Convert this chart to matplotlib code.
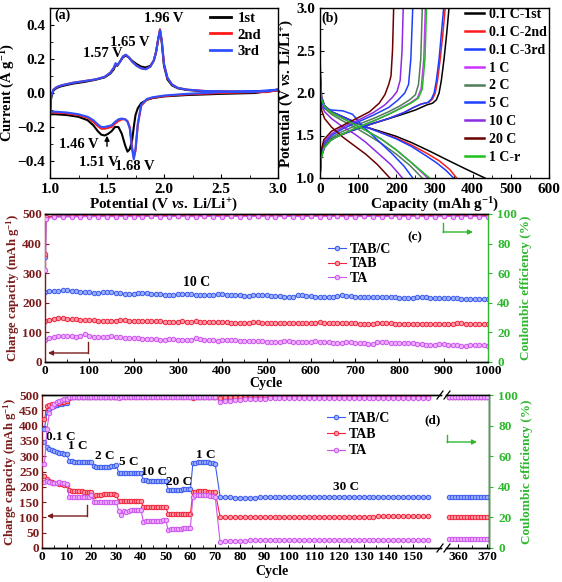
# Four-panel figure: CV curves, charge/discharge profiles, long cycling and rate test

import numpy as np
import matplotlib
matplotlib.use('Agg')
import matplotlib.pyplot as plt
from matplotlib.lines import Line2D
from matplotlib.patches import FancyArrowPatch
from matplotlib.ticker import MultipleLocator, FixedLocator

plt.rcParams['font.family'] = 'Liberation Serif'
plt.rcParams['font.weight'] = 'bold'
plt.rcParams['axes.labelweight'] = 'bold'
plt.rcParams['mathtext.fontset'] = 'custom'
plt.rcParams['mathtext.rm'] = 'Liberation Serif:bold'
plt.rcParams['mathtext.it'] = 'Liberation Serif:italic:bold'
plt.rcParams['mathtext.bf'] = 'Liberation Serif:bold'
plt.rcParams['xtick.direction'] = 'in'
plt.rcParams['ytick.direction'] = 'in'
plt.rcParams['axes.linewidth'] = 1.0

# ---------------- (a) CV curves ----------------
cv_up_v = [1.00, 1.01, 1.03, 1.06, 1.10, 1.20, 1.30, 1.40, 1.48, 1.53, 1.56, 1.575, 1.59,
           1.61, 1.64, 1.665, 1.69, 1.72, 1.76, 1.80, 1.84, 1.88, 1.91, 1.93, 1.95, 1.965,
           1.98, 2.00, 2.03, 2.07, 2.12, 2.20, 2.35, 2.50, 2.70, 2.90, 3.00]
cv_up_1st = [-0.125, -0.03, 0.015, 0.03, 0.04, 0.055, 0.065, 0.078, 0.092, 0.115, 0.14, 0.165, 0.16,
             0.18, 0.21, 0.22, 0.21, 0.19, 0.17, 0.155, 0.15, 0.16, 0.19, 0.24, 0.32, 0.365,
             0.30, 0.16, 0.08, 0.045, 0.028, 0.018, 0.01, 0.008, 0.006, 0.008, 0.015]
cv_up_2nd = [-0.115, -0.02, 0.02, 0.035, 0.045, 0.06, 0.07, 0.08, 0.095, 0.12, 0.148, 0.172, 0.165,
             0.18, 0.215, 0.225, 0.21, 0.185, 0.16, 0.145, 0.14, 0.155, 0.19, 0.24, 0.32, 0.375,
             0.31, 0.17, 0.09, 0.05, 0.03, 0.02, 0.012, 0.01, 0.008, 0.005, 0.02]
cv_up_3rd = [-0.11, -0.02, 0.02, 0.035, 0.045, 0.06, 0.07, 0.08, 0.095, 0.12, 0.15, 0.175, 0.165,
             0.18, 0.215, 0.225, 0.21, 0.185, 0.16, 0.145, 0.14, 0.155, 0.19, 0.24, 0.32, 0.37,
             0.31, 0.17, 0.09, 0.05, 0.03, 0.02, 0.012, 0.01, 0.008, 0.01, 0.02]
cv_dn_v = [3.00, 2.80, 2.50, 2.20, 2.00, 1.90, 1.85, 1.80, 1.77, 1.75, 1.735, 1.72, 1.70, 1.68,
           1.66, 1.63, 1.60, 1.57, 1.54, 1.51, 1.48, 1.45, 1.42, 1.38, 1.33, 1.25, 1.15, 1.05, 1.00]
cv_dn_1st = [0.02, 0.0, -0.005, -0.012, -0.02, -0.03, -0.04, -0.06, -0.09, -0.13, -0.2, -0.28, -0.33, -0.345,
             -0.31, -0.24, -0.2, -0.2, -0.225, -0.24, -0.25, -0.245, -0.225, -0.19, -0.16, -0.14, -0.13, -0.125, -0.125]
cv_dn_2nd = [0.015, 0.005, 0.0, -0.008, -0.018, -0.028, -0.038, -0.075, -0.19, -0.34, -0.38, -0.32, -0.2, -0.165,
             -0.155, -0.155, -0.165, -0.18, -0.2, -0.205, -0.21, -0.21, -0.195, -0.17, -0.145, -0.13, -0.12, -0.115, -0.115]
cv_dn_3rd = [0.02, 0.01, 0.005, -0.005, -0.015, -0.025, -0.035, -0.07, -0.18, -0.33, -0.39, -0.33, -0.21, -0.17,
             -0.155, -0.15, -0.155, -0.17, -0.19, -0.195, -0.2, -0.2, -0.185, -0.16, -0.14, -0.125, -0.115, -0.11, -0.11]

# ---------------- (b) charge / discharge profiles ----------------
gcd_labels = ['0.1 C-1st', '0.1 C-2nd', '0.1 C-3rd', '1 C', '2 C', '5 C', '10 C', '20 C', '1 C-r']
gcd_colors = ['#000000', '#ff1a1a', '#1a3cff', '#cc33ff', '#4f7d55', '#1f3fff', '#8c2be2', '#6b0000', '#1fbf1f']
dis_cap = [
    [0, 1, 4, 12, 30, 60, 90, 113, 150, 200, 243, 290, 330, 380, 432],
    [0, 1, 4, 12, 30, 60, 90, 115, 150, 200, 243, 280, 313, 340, 358],
    [0, 1, 4, 12, 30, 60, 90, 115, 150, 200, 240, 275, 305, 330, 350],
    [0, 1, 4, 12, 30, 60, 90, 120, 160, 200, 240, 282],
    [0, 1, 4, 12, 30, 60, 90, 120, 160, 200, 235, 268],
    [0, 1, 4, 12, 30, 60, 85, 110, 150, 190, 220, 243],
    [0, 1, 4, 12, 30, 60, 90, 120, 150, 185, 216],
    [0, 1, 4, 12, 30, 60, 90, 120, 150, 183],
    [0, 1, 4, 12, 30, 60, 90, 120, 160, 200, 245, 287],
]
dis_v = [
    [2.6, 2.2, 1.95, 1.85, 1.78, 1.72, 1.66, 1.61, 1.56, 1.49, 1.41, 1.31, 1.22, 1.11, 1.0],
    [2.6, 2.2, 1.95, 1.85, 1.78, 1.72, 1.66, 1.61, 1.55, 1.47, 1.38, 1.29, 1.2, 1.1, 1.0],
    [2.6, 2.2, 1.95, 1.85, 1.78, 1.72, 1.66, 1.61, 1.55, 1.46, 1.37, 1.27, 1.18, 1.09, 1.0],
    [2.4, 2.1, 1.92, 1.84, 1.77, 1.7, 1.63, 1.56, 1.46, 1.33, 1.18, 1.0],
    [2.4, 2.1, 1.9, 1.82, 1.75, 1.67, 1.6, 1.52, 1.41, 1.28, 1.15, 1.0],
    [2.4, 2.1, 1.9, 1.82, 1.8, 1.79, 1.75, 1.62, 1.45, 1.28, 1.14, 1.0],
    [2.3, 2.0, 1.85, 1.78, 1.7, 1.6, 1.52, 1.42, 1.3, 1.16, 1.0],
    [2.2, 1.95, 1.8, 1.7, 1.6, 1.48, 1.38, 1.28, 1.16, 1.0],
    [2.4, 2.1, 1.92, 1.84, 1.77, 1.7, 1.63, 1.56, 1.46, 1.33, 1.16, 1.0],
]
chg_cap = [
    [0, 2, 8, 25, 60, 110, 160, 210, 250, 280, 295, 305, 312, 318, 325, 332, 338],
    [0, 3, 15, 40, 80, 130, 180, 220, 245, 265, 285, 295, 302, 308, 315, 322, 328],
    [0, 3, 15, 40, 80, 130, 180, 220, 245, 265, 283, 292, 299, 305, 312, 318, 324],
    [0, 2, 10, 30, 60, 100, 140, 180, 210, 235, 255, 265, 272, 276],
    [0, 2, 10, 30, 60, 100, 140, 180, 210, 235, 250, 258, 264, 268],
    [0, 2, 10, 30, 60, 100, 140, 180, 205, 222, 232, 238, 243],
    [0, 2, 10, 30, 60, 100, 140, 170, 190, 202, 210, 215, 218],
    [0, 2, 10, 30, 60, 100, 130, 155, 170, 180, 186, 190, 193],
    [0, 2, 10, 30, 60, 100, 140, 180, 212, 238, 258, 268, 275, 279],
]
chg_v = [
    [1.0, 1.2, 1.35, 1.45, 1.52, 1.6, 1.67, 1.74, 1.8, 1.86, 1.88, 1.92, 2.0, 2.15, 2.4, 2.7, 3.0],
    [1.0, 1.25, 1.4, 1.48, 1.55, 1.63, 1.7, 1.77, 1.83, 1.87, 1.89, 1.93, 2.0, 2.15, 2.4, 2.7, 3.0],
    [1.0, 1.25, 1.4, 1.48, 1.55, 1.63, 1.7, 1.77, 1.83, 1.87, 1.89, 1.93, 2.0, 2.15, 2.4, 2.7, 3.0],
    [1.0, 1.2, 1.35, 1.45, 1.52, 1.6, 1.67, 1.75, 1.82, 1.88, 1.94, 2.05, 2.4, 3.0],
    [1.0, 1.22, 1.38, 1.48, 1.55, 1.63, 1.7, 1.78, 1.85, 1.92, 1.98, 2.1, 2.4, 3.0],
    [1.0, 1.25, 1.4, 1.5, 1.58, 1.66, 1.74, 1.83, 1.92, 2.0, 2.1, 2.4, 3.0],
    [1.0, 1.28, 1.42, 1.52, 1.6, 1.68, 1.77, 1.86, 1.95, 2.02, 2.15, 2.5, 3.0],
    [1.0, 1.3, 1.45, 1.55, 1.62, 1.71, 1.78, 1.88, 1.98, 2.1, 2.2, 2.5, 3.0],
    [1.0, 1.2, 1.35, 1.45, 1.52, 1.6, 1.67, 1.75, 1.82, 1.88, 1.94, 2.05, 2.4, 3.0],
]

# ---------------- (c) long cycling at 10 C ----------------
samples = ['TAB/C', 'TAB', 'TA']
sample_colors = ['#3a5bef', '#f0243c', '#cc55ee']
sample_faces = ['#9fb0ff', '#ff9aa8', '#eeb0ff']

c_cyc = np.arange(0, 1001, 10)
c_cyc[0] = 1
c_cap_tabc = [236, 240, 240, 240, 242, 244, 241, 239, 237, 236,
              235, 234, 233, 236, 237, 235, 233, 232, 231, 230,
              229, 232, 234, 233, 231, 230, 229, 228, 227, 227,
              229, 231, 231, 229, 228, 227, 226, 225, 225, 230,
              230, 228, 227, 226, 225, 224, 224, 226, 228, 228,
              226, 224, 223, 222, 221, 220, 221, 226, 225, 223,
              222, 221, 220, 219, 219, 219, 223, 225, 223, 222,
              221, 220, 219, 219, 218, 219, 220, 221, 220, 218,
              217, 217, 216, 216, 218, 218, 218, 217, 216, 217,
              216, 215, 215, 215, 214, 214, 214, 214, 213, 213,
              213]
c_cap_tab = [138, 142, 146, 148, 147, 146, 145, 144, 143, 142,
             142, 141, 140, 140, 140, 139, 140, 142, 141, 140,
             140, 139, 139, 138, 138, 137, 137, 136, 136, 136,
             136, 137, 136, 136, 137, 136, 135, 135, 134, 134,
             134, 134, 133, 133, 133, 133, 133, 134, 134, 133,
             133, 133, 132, 132, 132, 132, 131, 131, 131, 131,
             131, 133, 134, 133, 132, 132, 132, 132, 131, 131,
             131, 130, 130, 130, 130, 131, 131, 131, 131, 130,
             130, 130, 130, 130, 129, 129, 129, 129, 129, 129,
             128, 128, 128, 131, 131, 130, 130, 129, 128, 128,
             128]
c_cap_ta = [76, 82, 86, 89, 89, 88, 87, 86, 88, 93,
            89, 86, 85, 84, 83, 88, 85, 83, 82, 81,
            80, 80, 79, 78, 77, 77, 76, 76, 77, 77,
            76, 75, 74, 74, 80, 78, 76, 75, 73, 72,
            76, 75, 74, 73, 72, 71, 71, 72, 72, 70,
            69, 69, 69, 68, 70, 70, 69, 68, 67, 66,
            66, 70, 68, 67, 66, 65, 64, 64, 68, 66,
            65, 64, 63, 61, 60, 68, 67, 66, 65, 64,
            63, 64, 65, 63, 62, 60, 59, 57, 56, 62,
            60, 58, 57, 56, 54, 53, 57, 58, 57, 56,
            55]
c_ce_cyc = [1, 2] + list(range(20, 1001, 20))
c_ce_tabc = [71.0, 97.6,
             98.4, 98.6, 98.7, 98.8, 98.8, 98.8, 98.9, 98.9, 98.9, 98.9,
             98.9, 99.0, 98.9, 98.9, 99.0, 98.9, 98.9, 99.0, 98.9, 98.9,
             99.0, 98.9, 98.9, 99.0, 98.9, 98.9, 99.0, 98.9, 98.9, 99.0,
             98.9, 98.9, 99.0, 98.9, 98.9, 99.0, 98.9, 98.9, 99.0, 98.9,
             98.9, 99.0, 98.9, 98.9, 99.0, 98.9, 98.9, 99.0, 98.9, 98.9]
c_ce_tab = [73.0, 97.8,
            98.5, 98.7, 98.8, 98.8, 98.9, 98.9, 98.9, 98.9, 98.9, 99.0,
            98.9, 98.9, 99.0, 98.9, 98.9, 99.0, 98.9, 98.9, 99.0, 98.9,
            98.9, 99.0, 98.9, 98.9, 99.0, 98.9, 98.9, 99.0, 98.9, 98.9,
            99.0, 98.9, 98.9, 99.0, 98.9, 98.9, 99.0, 98.9, 98.9, 99.0,
            98.9, 98.9, 99.0, 98.9, 98.9, 99.0, 98.9, 98.9, 99.0, 98.9]
c_ce_ta = [62.0, 96.8,
           97.8, 98.0, 98.1, 98.2, 98.2, 98.3, 98.3, 98.3, 98.3, 98.3,
           98.3, 98.4, 98.3, 98.3, 98.4, 98.3, 98.3, 98.4, 98.3, 98.3,
           98.4, 98.3, 98.3, 98.4, 98.3, 98.3, 98.4, 98.3, 98.3, 98.4,
           98.3, 98.3, 98.4, 98.3, 98.3, 98.4, 98.3, 98.3, 98.4, 98.3,
           98.3, 98.4, 98.3, 98.3, 98.4, 98.3, 98.3, 98.4, 98.3, 98.3]

# ---------------- (d) rate test ----------------
d_cyc = list(range(1, 71)) + list(range(72, 157, 2))
d_cap_tabc = [345, 330, 325, 320, 317, 314, 312, 310, 308, 306,
              284, 283, 282, 282, 281, 281, 281, 281, 280, 280,
              267, 266, 266, 266, 266, 266, 266, 267, 267, 270,
              246, 245, 245, 245, 245, 245, 245, 245, 245, 245,
              221, 221, 220, 220, 220, 220, 220, 220, 220, 220,
              191, 191, 191, 191, 191, 191, 192, 192, 192, 192,
              277, 279, 280, 281, 281, 280, 280, 279, 278, 276,
              168, 167, 166, 165, 165, 165, 165, 165, 166, 166,
              166, 166, 166, 166, 166, 166, 167, 167, 167, 167,
              167, 167, 167, 167, 167, 167, 168, 168, 168, 168,
              168, 168, 168, 168, 168, 168, 168, 168, 168, 168,
              168, 168, 168]
d_cap_tab = [235, 224, 220, 217, 214, 212, 210, 208, 207, 205,
             188, 187, 186, 186, 185, 185, 184, 184, 183, 183,
             171, 172, 173, 174, 175, 175, 175, 175, 175, 174,
             154, 153, 153, 153, 153, 153, 153, 153, 153, 153,
             133, 133, 133, 133, 133, 133, 133, 133, 133, 133,
             112, 111, 111, 111, 111, 111, 112, 112, 112, 112,
             182, 184, 185, 185, 185, 185, 184, 184, 184, 183,
             102, 101, 100, 100, 100, 100, 100, 100, 100, 100,
             100, 100, 100, 100, 101, 101, 101, 101, 101, 101,
             101, 101, 101, 102, 102, 102, 102, 102, 102, 102,
             102, 102, 103, 103, 103, 103, 103, 103, 103, 103,
             103, 103, 103]
d_cap_ta = [215, 218, 216, 214, 212, 213, 216, 213, 211, 209,
            167, 166, 166, 166, 166, 166, 167, 167, 168, 172,
            150, 149, 149, 149, 150, 150, 150, 150, 150, 151,
            122, 107, 122, 118, 121, 123, 124, 124, 124, 125,
            86, 87, 87, 88, 88, 89, 89, 89, 90, 90,
            60, 61, 62, 62, 63, 63, 64, 64, 65, 66,
            168, 172, 173, 173, 173, 172, 172, 171, 170, 168,
            20, 22, 23, 24, 24, 24, 25, 25, 25, 25,
            25, 25, 25, 25, 25, 25, 25, 25, 25, 25,
            25, 25, 25, 25, 25, 25, 25, 25, 25, 25,
            25, 25, 25, 25, 25, 25, 25, 25, 25, 25,
            25, 25, 25]
d_ce_tabc = [78, 89, 91, 92, 93, 93.6, 94, 94.4, 94.6, 95,
             98.2, 98.6, 98.8, 98.9, 99, 99, 99, 99, 99, 99,
             99, 99, 99, 99, 99, 99, 99, 99, 99, 99,
             99, 99.1, 99.1, 99.1, 99.1, 99.1, 99.1, 99.1, 99.1, 99.1,
             99.1, 99.1, 99.1, 99.1, 99.1, 99.1, 99.1, 99.1, 99.1, 99.1,
             99.1, 99.1, 99.1, 99.1, 99.1, 99.1, 99.1, 99.1, 99.1, 99.1,
             98.6, 98.8, 99, 99, 99, 99, 99, 99, 99, 99,
             97.4, 98, 98.3, 98.5, 98.6, 98.7, 98.8, 98.8, 98.9, 98.9,
             98.9, 98.9, 98.9, 98.9, 98.9, 98.9, 98.9, 98.9, 98.9, 98.9,
             99, 99, 99, 99, 99, 99, 99, 99, 99, 99,
             99, 99, 99, 99, 99, 99, 99, 99, 99, 99,
             99, 99, 99]
d_ce_tab = [84, 93, 93.6, 94, 94.4, 94.6, 95, 95.2, 95.4, 96,
            98, 98.4, 98.6, 98.8, 98.8, 98.9, 98.9, 98.9, 98.9, 98.9,
            98.9, 98.9, 98.9, 98.9, 98.9, 98.9, 98.9, 98.9, 98.9, 98.9,
            98.9, 98.9, 98.9, 98.9, 98.9, 98.9, 98.9, 98.9, 98.9, 98.9,
            98.9, 98.9, 98.9, 98.9, 98.9, 98.9, 98.9, 98.9, 98.9, 98.9,
            98.9, 98.9, 98.9, 98.9, 98.9, 98.9, 98.9, 98.9, 98.9, 98.9,
            98.2, 98.6, 98.8, 98.9, 98.9, 98.9, 98.9, 98.9, 98.9, 98.9,
            98.0, 98.4, 98.6, 98.7, 98.8, 98.8, 98.9, 98.9, 98.9, 98.9,
            98.9, 98.9, 98.9, 98.9, 98.9, 98.9, 98.9, 98.9, 98.9, 98.9,
            98.9, 98.9, 98.9, 98.9, 98.9, 98.9, 98.9, 98.9, 98.9, 98.9,
            98.9, 98.9, 98.9, 98.9, 98.9, 98.9, 98.9, 98.9, 98.9, 98.9,
            98.9, 98.9, 98.9]
d_ce_ta = [55, 78, 88, 92, 94, 95.6, 96.4, 97, 97.4, 97.6,
           98.4, 98.6, 98.8, 98.8, 98.8, 98.8, 98.8, 98.8, 98.8, 98.8,
           98.8, 98.8, 98.8, 98.8, 98.8, 98.8, 98.8, 98.8, 98.8, 98.8,
           98.0, 98.4, 98.6, 98.8, 98.8, 98.8, 98.8, 98.8, 98.8, 98.8,
           98.8, 98.8, 98.8, 98.8, 98.8, 98.8, 98.8, 98.8, 98.8, 98.8,
           98.6, 98.8, 98.8, 98.8, 98.8, 98.8, 98.8, 98.8, 98.8, 98.8,
           98.6, 98.8, 98.8, 98.8, 98.8, 98.8, 98.8, 98.8, 98.8, 98.8,
           95.2, 96, 96.4, 96.8, 97, 97.2, 97.4, 97.5, 97.6, 97.7,
           97.8, 97.8, 97.9, 97.9, 98, 98, 98, 98.1, 98.1, 98.1,
           98.2, 98.2, 98.2, 98.2, 98.3, 98.3, 98.3, 98.3, 98.3, 98.3,
           98.3, 98.3, 98.3, 98.3, 98.3, 98.3, 98.3, 98.3, 98.3, 98.3,
           98.3, 98.3, 98.3]
d_cyc_r = list(range(357, 371))
d_cap_tabc_r = [168, 168, 168, 168, 168, 168, 168, 168, 168, 168, 168, 168, 168, 168]
d_cap_tab_r = [100, 100, 100, 100, 100, 100, 100, 100, 100, 100, 100, 100, 100, 100]
d_cap_ta_r = [30, 30, 30, 30, 30, 30, 30, 30, 30, 30, 30, 30, 30, 30]
d_ce_tabc_r = [99, 99, 99, 99, 99, 99, 99, 99, 99, 99, 99, 99, 99, 99]
d_ce_tab_r = [98.9, 98.9, 98.9, 98.9, 98.9, 98.9, 98.9, 98.9, 98.9, 98.9, 98.9, 98.9, 98.9, 98.9]
d_ce_ta_r = [98.6, 98.6, 98.6, 98.6, 98.6, 98.6, 98.6, 98.6, 98.6, 98.6, 98.6, 98.6, 98.6, 98.6]
rate_labels = ['0.1 C', '1 C', '2 C', '5 C', '10 C', '20 C', '1 C', '30 C']
rate_label_x = [7.5, 14.6, 25.5, 35, 45.4, 55.5, 66, 123]
rate_label_y = [363, 333, 300, 281, 248, 216, 304, 199]

CAP_COLOR = '#7b1c1c'
CE_COLOR = '#2eb82e'
W, H = 562, 582

fig = plt.figure(figsize=(5.62, 5.82), dpi=100)


def px_box(x0, y0, x1, y1):
    # figure rectangle from pixel corners (top-left origin)
    return [x0 / W, 1 - y1 / H, (x1 - x0) / W, (y1 - y0) / H]


def fpx(x, y):
    return (x / W, 1 - y / H)


def elbow_arrow(x0, y0, x1, y1, x2, y2, color):
    fig.add_artist(Line2D([x0 / W, x1 / W], [1 - y0 / H, 1 - y1 / H],
                          transform=fig.transFigure, color=color, lw=1.0))
    fig.add_artist(FancyArrowPatch(fpx(x1, y1), fpx(x2, y2), transform=fig.transFigure,
                                   color=color, arrowstyle='-|>', mutation_scale=7, lw=1.0,
                                   shrinkA=0, shrinkB=0))


# ---- panel (a)
ax_a = fig.add_axes(px_box(50, 8, 278, 178))
ax_a.plot(cv_dn_v + cv_up_v, cv_dn_1st + cv_up_1st, color='black', lw=1.5, label='1st')
ax_a.plot(cv_dn_v + cv_up_v, cv_dn_2nd + cv_up_2nd, color='#ff1a1a', lw=1.5, label='2nd')
ax_a.plot(cv_dn_v + cv_up_v, cv_dn_3rd + cv_up_3rd, color='#3050ff', lw=1.5, label='3rd')
ax_a.set_xlim(1.0, 3.0)
ax_a.set_ylim(-0.5, 0.5)
ax_a.xaxis.set_major_locator(MultipleLocator(0.5))
ax_a.xaxis.set_minor_locator(MultipleLocator(0.25))
ax_a.yaxis.set_major_locator(MultipleLocator(0.2))
ax_a.yaxis.set_minor_locator(MultipleLocator(0.1))
ax_a.tick_params(labelsize=11, length=3)
ax_a.tick_params(which='minor', length=2)
ax_a.set_xlabel(r'Potential (V $\mathit{vs.}\,$Li/Li$^{+}$)', fontsize=11, labelpad=0)
ax_a.set_ylabel(r'Current (A g$^{-1}$)', fontsize=10.5, labelpad=0)
leg_a = ax_a.legend(loc='upper left', bbox_to_anchor=(0.70, 0.975), frameon=False, fontsize=10.5,
                    handlelength=1.5, labelspacing=0.2, handletextpad=0.4, borderpad=0,
                    borderaxespad=0)
for h in leg_a.legend_handles:
    h.set_linewidth(2.0)
ax_a.text(1.11, 0.46, '(a)', fontsize=10, ha='center', va='center')
for txt, xx, yy in [('1.96 V', 2.0, 0.44), ('1.65 V', 1.70, 0.30), ('1.57 V', 1.46, 0.23),
                    ('1.46 V', 1.25, -0.30), ('1.51 V', 1.43, -0.41), ('1.68 V', 1.74, -0.43)]:
    ax_a.text(xx, yy, txt, fontsize=10.5, ha='center', va='center')
ax_a.annotate('', xy=(1.5, -0.235), xytext=(1.5, -0.33),
              arrowprops=dict(arrowstyle='-|>', color='black', lw=1.0, mutation_scale=7))

# ---- panel (b)
ax_b = fig.add_axes(px_box(320, 8, 549, 178))
for i in range(len(gcd_labels)):
    ax_b.plot(dis_cap[i], dis_v[i], color=gcd_colors[i], lw=1.1)
    ax_b.plot(chg_cap[i], chg_v[i], color=gcd_colors[i], lw=1.1, label=gcd_labels[i])
ax_b.set_xlim(0, 600)
ax_b.set_ylim(1.0, 3.0)
ax_b.xaxis.set_major_locator(MultipleLocator(100))
ax_b.xaxis.set_minor_locator(MultipleLocator(50))
ax_b.yaxis.set_major_locator(MultipleLocator(0.5))
ax_b.yaxis.set_minor_locator(MultipleLocator(0.25))
ax_b.tick_params(labelsize=11, length=3)
ax_b.tick_params(which='minor', length=2)
ax_b.set_xlabel(r'Capacity (mAh g$^{-1}$)', fontsize=11, labelpad=0)
ax_b.set_ylabel(r'Potential (V $\mathit{vs.}\,$Li/Li$^{+}$)', fontsize=11, labelpad=1)
leg_b = ax_b.legend(loc='upper left', bbox_to_anchor=(0.633, 1.0), frameon=False, fontsize=10,
                    handlelength=1.4, labelspacing=0.35, handletextpad=0.3, borderpad=0,
                    borderaxespad=0)
for h in leg_b.legend_handles:
    h.set_linewidth(1.8)
ax_b.text(25, 2.88, '(b)', fontsize=10, ha='center', va='center')

# ---- panel (c)
ax_c = fig.add_axes(px_box(45, 214, 488, 362))
ax_c2 = ax_c.twinx()
for cap, col, fc, lab in zip([c_cap_tabc, c_cap_tab, c_cap_ta], sample_colors, sample_faces, samples):
    ax_c.plot(c_cyc, cap, color=col, lw=0.8, marker='o', ms=3.2, mfc=fc, mec=col, mew=0.7, label=lab)
for ce, col, fc in zip([c_ce_tabc, c_ce_tab, c_ce_ta], sample_colors, sample_faces):
    ax_c2.plot(c_ce_cyc, ce, color=col, lw=0.8, marker='o', ms=3.2, mfc=fc, mec=col, mew=0.7)
ax_c.set_xlim(0, 1000)
ax_c.set_ylim(0, 500)
ax_c2.set_ylim(0, 100)
ax_c.xaxis.set_major_locator(MultipleLocator(100))
ax_c.xaxis.set_minor_locator(MultipleLocator(50))
ax_c.yaxis.set_major_locator(MultipleLocator(100))
ax_c2.yaxis.set_major_locator(MultipleLocator(20))
ax_c.set_xlabel('Cycle', fontsize=10, labelpad=0)
ax_c.set_ylabel(r'Charge capacity (mAh g$^{-1}$)', fontsize=9.2, color=CAP_COLOR, labelpad=0)
ax_c2.set_ylabel('Coulombic efficiency (%)', fontsize=9.5, color=CE_COLOR, labelpad=2)
ax_c.tick_params(axis='x', labelsize=9.5, length=3, pad=2)
ax_c.tick_params(axis='x', which='minor', length=2)
ax_c.tick_params(axis='y', labelsize=9.5, length=3, colors=CAP_COLOR, pad=2)
ax_c2.tick_params(axis='y', labelsize=9.5, length=3, colors=CE_COLOR, direction='out')
ax_c.spines['left'].set_color(CAP_COLOR)
ax_c2.spines['left'].set_visible(False)
ax_c2.spines['right'].set_color(CE_COLOR)
ax_c.spines['right'].set_visible(False)
ax_c.legend(loc='upper left', bbox_to_anchor=(0.639, 0.805), frameon=False, fontsize=10,
            handlelength=1.3, labelspacing=0.11, handletextpad=0.3, borderpad=0, borderaxespad=0)
ax_c.text(343, 270, '10 C', fontsize=10, ha='center', va='center')
fig.text(*fpx(415, 237), '(c)', fontsize=9.5, ha='center', va='center')
elbow_arrow(88, 342, 88, 353, 48, 353, CAP_COLOR)
elbow_arrow(443, 223, 443, 232, 473, 232, CE_COLOR)

# ---- panel (d), broken x axis
ax_d1 = fig.add_axes(px_box(42, 395, 441, 548))
ax_d2 = fig.add_axes(px_box(446, 395, 489, 548), sharey=ax_d1)
ax_d1t = ax_d1.twinx()
ax_d2t = ax_d2.twinx()
d_caps = [d_cap_tabc, d_cap_tab, d_cap_ta]
d_ces = [d_ce_tabc, d_ce_tab, d_ce_ta]
d_caps_r = [d_cap_tabc_r, d_cap_tab_r, d_cap_ta_r]
d_ces_r = [d_ce_tabc_r, d_ce_tab_r, d_ce_ta_r]
for k in range(3):
    st = dict(color=sample_colors[k], lw=0.8, marker='o', ms=3.2, mfc=sample_faces[k],
              mec=sample_colors[k], mew=0.7)
    ax_d1.plot(d_cyc, d_caps[k], label=samples[k], **st)
    ax_d1t.plot(d_cyc, d_ces[k], **st)
    ax_d2.plot(d_cyc_r, d_caps_r[k], **st)
    ax_d2t.plot(d_cyc_r, d_ces_r[k], **st)
ax_d1.set_xlim(0, 161.3)
ax_d2.set_xlim(355.9, 370.7)
ax_d1.set_ylim(0, 500)
ax_d1t.set_ylim(0, 100)
ax_d2t.set_ylim(0, 100)
ax_d1.xaxis.set_major_locator(FixedLocator(list(range(0, 151, 10))))
ax_d1.xaxis.set_minor_locator(FixedLocator(list(range(5, 161, 10))))
ax_d2.set_xticks([360, 370])
ax_d2.xaxis.set_minor_locator(FixedLocator([365]))
ax_d1.yaxis.set_major_locator(MultipleLocator(50))
ax_d2t.yaxis.set_major_locator(MultipleLocator(20))
ax_d1.tick_params(axis='x', labelsize=9.5, length=3, pad=2)
ax_d2.tick_params(axis='x', labelsize=9.5, length=3, pad=2)
ax_d1.tick_params(axis='x', which='minor', length=2)
ax_d2.tick_params(axis='x', which='minor', length=2)
ax_d1.tick_params(axis='y', labelsize=9.5, length=3, colors=CAP_COLOR, pad=2)
ax_d2.tick_params(axis='y', left=False, labelleft=False)
ax_d1t.tick_params(axis='y', right=False, labelright=False)
ax_d2t.tick_params(axis='y', labelsize=9.5, length=3, colors=CE_COLOR, direction='out')
for a in [ax_d1, ax_d1t]:
    a.spines['right'].set_visible(False)
for a in [ax_d2, ax_d2t]:
    a.spines['left'].set_visible(False)
ax_d1.spines['left'].set_color(CAP_COLOR)
ax_d1t.spines['left'].set_visible(False)
ax_d2t.spines['right'].set_color(CE_COLOR)
ax_d1.set_ylabel(r'Charge capacity (mAh g$^{-1}$)', fontsize=9.2, color=CAP_COLOR, labelpad=0)
ax_d2t.set_ylabel('Coulombic efficiency (%)', fontsize=9.5, color=CE_COLOR, labelpad=2)
fig.text(*fpx(272, 571), 'Cycle', fontsize=10, ha='center', va='center')
ax_d1.legend(loc='upper left', bbox_to_anchor=(0.714, 0.89), frameon=False, fontsize=10,
             handlelength=1.3, labelspacing=0.24, handletextpad=0.3, borderpad=0, borderaxespad=0)
for txt, xx, yy in zip(rate_labels, rate_label_x, rate_label_y):
    ax_d1.text(xx, yy, txt, fontsize=9.5, ha='center', va='center')
fig.text(*fpx(433, 420), '(d)', fontsize=9.5, ha='center', va='center')
elbow_arrow(87, 505, 87, 516, 47, 516, CAP_COLOR)
elbow_arrow(447, 435, 447, 442, 477, 442, CE_COLOR)
# break marks
for yy in (395, 548):
    for xx in (440, 447):
        fig.add_artist(Line2D([(xx - 3) / W, (xx + 3) / W], [1 - (yy + 4) / H, 1 - (yy - 4) / H],
                              transform=fig.transFigure, color='black', lw=0.9))

fig.savefig('out.png', dpi=100)
